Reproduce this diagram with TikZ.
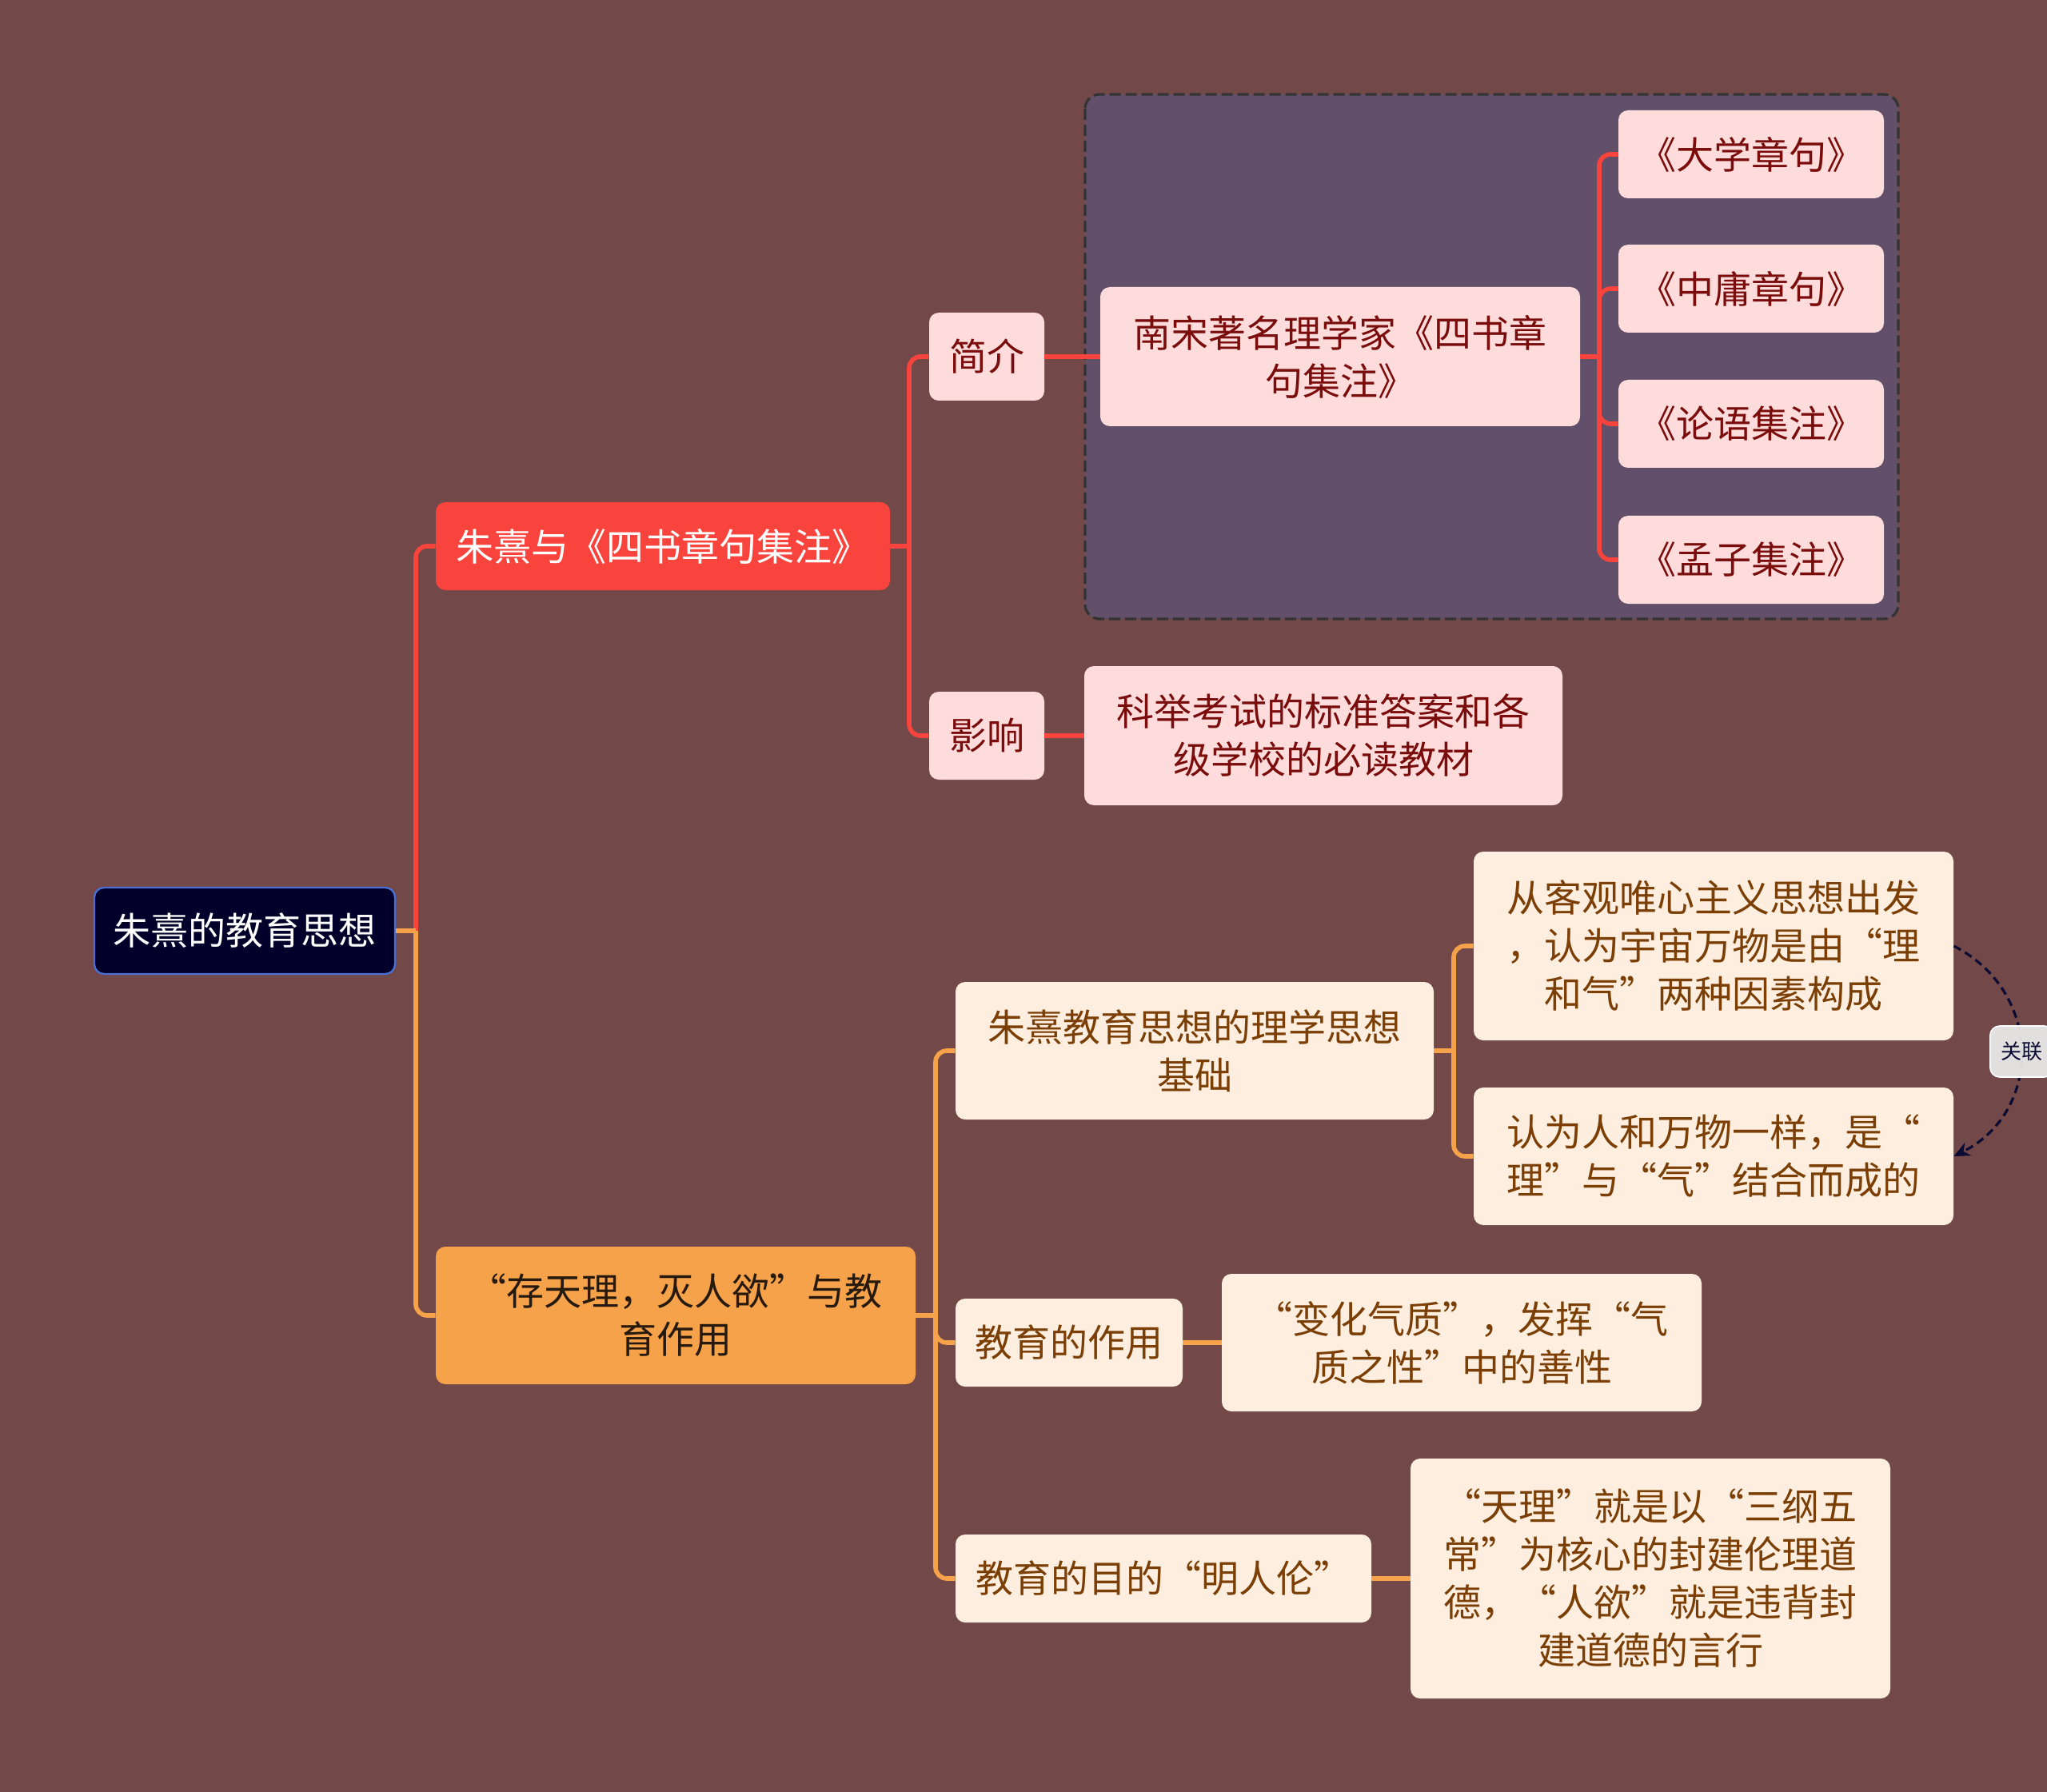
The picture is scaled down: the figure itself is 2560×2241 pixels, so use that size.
\documentclass[tikz,border=0pt]{standalone}
\usepackage{fontspec}
\setmainfont{Noto Sans CJK SC}
\usepackage{tikz}
\usetikzlibrary{arrows.meta}

\definecolor{bgbrown}{HTML}{724848}
\definecolor{rootfill}{HTML}{02002A}
\definecolor{rootedge}{HTML}{4B6FD1}
\definecolor{redmain}{HTML}{F8443C}
\definecolor{orangemain}{HTML}{F5A24A}
\definecolor{pinkfill}{HTML}{FEDCDC}
\definecolor{pinktext}{HTML}{7A0C0C}
\definecolor{creamfill}{HTML}{FDEEDF}
\definecolor{creamtext}{HTML}{7B3F06}
\definecolor{boxfill}{HTML}{62506A}
\definecolor{boxedge}{HTML}{333333}
\definecolor{linkcol}{HTML}{0B0B33}

\begin{document}
\begin{tikzpicture}[x=0.5pt,y=-0.5pt,
  every node/.style={font=\fontsize{23.5}{30}\selectfont,align=center,inner sep=0pt,rounded corners=6pt},
  rootnode/.style={fill=rootfill,draw=rootedge,line width=1.2pt,text=white},
  topic/.style={fill=#1,text=white},
  pinknode/.style={fill=pinkfill,text=pinktext},
  creamnode/.style={fill=creamfill,text=creamtext},
  redline/.style={draw=redmain,line width=2.8pt},
  orangeline/.style={draw=orangemain,line width=2.8pt},
  elbow/.style={rounded corners=7pt}]

  \useasboundingbox (0,0) rectangle (2560,2241);
  \fill[bgbrown] (0,0) rectangle (2560,2241);

  % framed group of the four books
  \draw[fill=boxfill,draw=boxedge,line width=1.6pt,dash pattern=on 7pt off 3pt,rounded corners=9pt]
    (1357,118) rectangle (2374,774);

  % nodes
  \node[rootnode,minimum width=188pt,minimum height=54pt] (root) at (306,1164) {朱熹的教育思想};
  \node[topic=redmain,minimum width=284pt,minimum height=55pt] (sishu) at (829,683) {朱熹与《四书章句集注》};
  \node[topic=orangemain,text=black!80!brown,minimum width=300pt,minimum height=86pt] (tianren) at (845,1645) {“存天理，灭人欲”与教\\育作用};

  \node[pinknode,minimum width=72pt,minimum height=55pt] (jianjie) at (1234,446) {简介};
  \node[pinknode,minimum width=72pt,minimum height=55pt] (yingxiang) at (1234,920) {影响};
  \node[pinknode,minimum width=300pt,minimum height=87pt] (nansong) at (1676,446) {南宋著名理学家《四书章\\句集注》};
  \node[pinknode,minimum width=166pt,minimum height=55pt] (daxue) at (2190,193) {《大学章句》};
  \node[pinknode,minimum width=166pt,minimum height=55pt] (zhongyong) at (2190,361) {《中庸章句》};
  \node[pinknode,minimum width=166pt,minimum height=55pt] (lunyu) at (2190,530) {《论语集注》};
  \node[pinknode,minimum width=166pt,minimum height=55pt] (mengzi) at (2190,700) {《孟子集注》};
  \node[pinknode,minimum width=299pt,minimum height=87pt] (keju) at (1655,920) {科举考试的标准答案和各\\级学校的必读教材};

  \node[creamnode,minimum width=299pt,minimum height=86pt] (jichu) at (1494,1314) {朱熹教育思想的理学思想\\基础};
  \node[creamnode,minimum width=300pt,minimum height=118pt] (keguan) at (2143,1183) {从客观唯心主义思想出发\\，认为宇宙万物是由“理\\和气”两种因素构成};
  \node[creamnode,minimum width=300pt,minimum height=86pt] (renwei) at (2143,1446) {认为人和万物一样，是“\\理”与“气”结合而成的};
  \node[creamnode,minimum width=142pt,minimum height=55pt] (zuoyong) at (1337,1679) {教育的作用};
  \node[creamnode,minimum width=300pt,minimum height=86pt] (bianhua) at (1828,1679) {“变化气质”，发挥“气\\质之性”中的善性};
  \node[creamnode,minimum width=260pt,minimum height=55pt] (mudi) at (1455,1974) {教育的目的“明人伦”};
  \node[creamnode,minimum width=300pt,minimum height=150pt] (tianli) at (2064,1974) {“天理”就是以“三纲五\\常”为核心的封建伦理道\\德，“人欲”就是违背封\\建道德的言行};

  % junctions
  \coordinate (j0) at (520,1164);
  \coordinate (j1) at (1137,683);
  \coordinate (j2) at (2000,446);
  \coordinate (j3) at (1170,1645);
  \coordinate (j4) at (1818,1314);

  % red branch
  \draw[redline,elbow] (j0) |- (sishu.west);
  \draw[redline] (sishu.east) -- (j1);
  \draw[redline,elbow] (j1) |- (jianjie.west);
  \draw[redline,elbow] (j1) |- (yingxiang.west);
  \draw[redline] (jianjie.east) -- (nansong.west);
  \draw[redline] (nansong.east) -- (j2);
  \draw[redline,elbow] (j2) |- (daxue.west);
  \draw[redline,elbow] (j2) |- (zhongyong.west);
  \draw[redline,elbow] (j2) |- (lunyu.west);
  \draw[redline,elbow] (j2) |- (mengzi.west);
  \draw[redline] (yingxiang.east) -- (keju.west);

  % orange branch
  \draw[orangeline] (root.east) -- (j0);
  \draw[orangeline,elbow] (j0) |- (tianren.west);
  \draw[orangeline] (tianren.east) -- (j3);
  \draw[orangeline,elbow] (j3) |- (jichu.west);
  \draw[orangeline,elbow] (j3) |- (zuoyong.west);
  \draw[orangeline,elbow] (j3) |- (mudi.west);
  \draw[orangeline] (jichu.east) -- (j4);
  \draw[orangeline,elbow] (j4) |- (keguan.west);
  \draw[orangeline,elbow] (j4) |- (renwei.west);
  \draw[orangeline] (zuoyong.east) -- (bianhua.west);
  \draw[orangeline] (mudi.east) -- (tianli.west);

  % relation link
  \draw[linkcol,line width=1.6pt,dash pattern=on 5pt off 3pt,-{Stealth[length=10pt,width=9pt]}]
    (keguan.east) .. controls (2555,1240) and (2555,1390) .. (renwei.east);
  \node[fill=black!8,fill opacity=0.93,text opacity=1,draw=white,line width=0.8pt,text=linkcol,
        font=\fontsize{13}{15}\selectfont,inner xsep=7pt,minimum height=32pt,anchor=west] (guanlian) at (2488,1315) {关联};
\end{tikzpicture}
\end{document}
